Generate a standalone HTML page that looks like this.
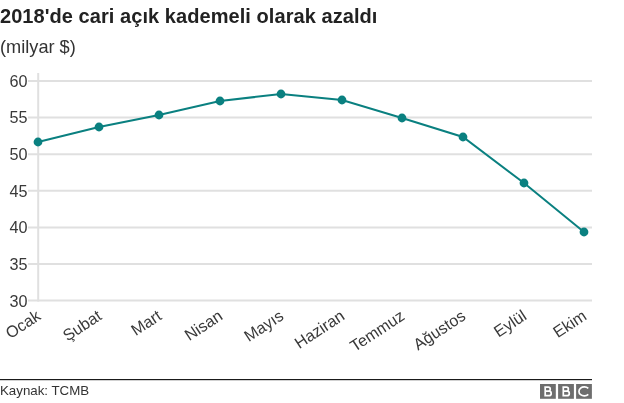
<!DOCTYPE html>
<html><head><meta charset="utf-8">
<style>
html,body{margin:0;padding:0;background:#fff;}
body{width:624px;height:403px;overflow:hidden;font-family:"Liberation Sans",sans-serif;}
svg{display:block;will-change:transform;opacity:0.999}
text{font-family:"Liberation Sans",sans-serif;}
</style></head><body>
<svg width="624" height="403" viewBox="0 0 624 403">
<rect width="624" height="403" fill="#fff"/>
<text x="0" y="22.5" font-size="20" font-weight="bold" fill="#222" letter-spacing="0.06">2018'de cari açık kademeli olarak azaldı</text>
<text x="0" y="53" font-size="18.2" fill="#333">(milyar $)</text>
<g stroke="#e0e0e0" stroke-width="2">
<line x1="28" y1="80.9" x2="592" y2="80.9"/>
<line x1="28" y1="117.52" x2="592" y2="117.52"/>
<line x1="28" y1="154.14" x2="592" y2="154.14"/>
<line x1="28" y1="190.76" x2="592" y2="190.76"/>
<line x1="28" y1="227.38" x2="592" y2="227.38"/>
<line x1="28" y1="264.0" x2="592" y2="264.0"/>
<line x1="28" y1="300.62" x2="592" y2="300.62"/>
<line x1="38.2" y1="73" x2="38.2" y2="301.6"/>
</g>
<g font-size="16.2" fill="#3a3a3a" text-anchor="end">
<text x="27.5" y="86.80000000000001">60</text>
<text x="27.5" y="123.42">55</text>
<text x="27.5" y="160.04">50</text>
<text x="27.5" y="196.66">45</text>
<text x="27.5" y="233.28">40</text>
<text x="27.5" y="269.9">35</text>
<text x="27.5" y="306.52">30</text>
</g>
<g font-size="16.2" fill="#3a3a3a" text-anchor="end">
<text transform="translate(41.8,318.5) rotate(-33.5)">Ocak</text>
<text transform="translate(102.8,318.5) rotate(-33.5)">Şubat</text>
<text transform="translate(162.8,318.5) rotate(-33.5)">Mart</text>
<text transform="translate(223.8,318.5) rotate(-33.5)">Nisan</text>
<text transform="translate(284.8,318.5) rotate(-33.5)">Mayıs</text>
<text transform="translate(345.8,318.5) rotate(-33.5)">Haziran</text>
<text transform="translate(405.8,318.5) rotate(-33.5)">Temmuz</text>
<text transform="translate(466.8,318.5) rotate(-33.5)">Ağustos</text>
<text transform="translate(527.8,318.5) rotate(-33.5)">Eylül</text>
<text transform="translate(587.8,318.5) rotate(-33.5)">Ekim</text>
</g>
<polyline fill="none" stroke="#0a8080" stroke-width="2" points="38,142 99,127 159,115 220,101 281,94 342,100 402,118 463,137 524,183 584,232"/>
<g fill="#0a8080"><circle cx="38" cy="142" r="4.4"/><circle cx="99" cy="127" r="4.4"/><circle cx="159" cy="115" r="4.4"/><circle cx="220" cy="101" r="4.4"/><circle cx="281" cy="94" r="4.4"/><circle cx="342" cy="100" r="4.4"/><circle cx="402" cy="118" r="4.4"/><circle cx="463" cy="137" r="4.4"/><circle cx="524" cy="183" r="4.4"/><circle cx="584" cy="232" r="4.4"/></g>
<rect x="0" y="379" width="592" height="1.2" fill="#1a1a1a"/>
<text x="0" y="395.3" font-size="13.3" fill="#333">Kaynak: TCMB</text>
<g fill="#6e6e6e"><rect x="540" y="384" width="15.8" height="14.8"/><rect x="558.1" y="384" width="15.8" height="14.8"/><rect x="576.1" y="384" width="15.8" height="14.8"/></g>
<g fill="none" stroke="#fff" stroke-width="1.7" stroke-linejoin="miter">
<path d="M545.1999999999999,386.4 V396.5 M544.3,387.2 H548.3 a1.9,1.9 0 0 1 0,3.9 H545.1999999999999 M545.1999999999999,391.1 H548.9 a2.3,2.3 0 0 1 0,4.6 H544.3" />
<path d="M563.3,386.4 V396.5 M562.4,387.2 H566.4 a1.9,1.9 0 0 1 0,3.9 H563.3 M563.3,391.1 H567.0 a2.3,2.3 0 0 1 0,4.6 H562.4" />
<path stroke-width="1.7" d="M588.28,388.36 A5.35,4.55 0 1 0 588.28,394.44"/>
</g>
</svg>
</body></html>
